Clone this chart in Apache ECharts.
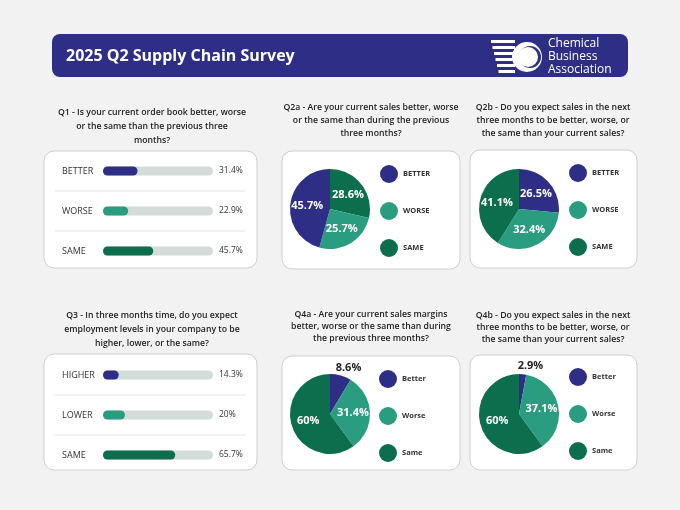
<!DOCTYPE html>
<html>
<head>
<meta charset="utf-8">
<script src="https://cdn.jsdelivr.net/npm/echarts@6/dist/echarts.min.js"></script>
<style>html,body{margin:0;padding:0;background:#f2f2f2}#main{width:680px;height:510px}</style>
</head>
<body>
<div id="main"></div>
<script>
// data
const q1Cats = ['BETTER', 'WORSE', 'SAME'];
const q1Vals = [31.4, 22.9, 45.7];
const q3Cats = ['HIGHER', 'LOWER', 'SAME'];
const q3Vals = [14.3, 20, 65.7];
const q2aNames = ['SAME', 'WORSE', 'BETTER'];
const q2aVals = [28.6, 25.7, 45.7];
const q2bNames = ['BETTER', 'WORSE', 'SAME'];
const q2bVals = [26.5, 32.4, 41.1];
const q4Names = ['Better', 'Worse', 'Same'];
const q4aVals = [8.6, 31.4, 60];
const q4bVals = [2.9, 37.1, 60];

const NAVY = '#2f2e86', TEAL = '#2a9d80', GREEN = '#0c6e4c';
const colorOf = { BETTER: NAVY, WORSE: TEAL, SAME: GREEN, HIGHER: NAVY, LOWER: TEAL, Better: NAVY, Worse: TEAL, Same: GREEN };
const FONT = '"Open Sans", "Noto Sans", sans-serif';

const chart = echarts.init(document.getElementById('main'));

function card(x, y, w, h) {
  return { type: 'rect', shape: { x: x, y: y, width: w, height: h, r: 10 }, style: { fill: '#fff', stroke: '#cfcfcf', lineWidth: 1 }, z: -1 };
}
function title(cx, ys, lines) {
  return lines.map((t, i) => ({ type: 'text', x: cx, y: ys[i], style: { text: t, fill: '#222', font: '600 8.7px ' + FONT, align: 'center', verticalAlign: 'middle' } }));
}
function sep(y) {
  return { type: 'line', shape: { x1: 55, y1: y, x2: 245, y2: y }, style: { stroke: '#e2e2e2', lineWidth: 1 } };
}

let graphic = [
  { type: 'rect', shape: { x: 52, y: 34, width: 576, height: 43, r: 8 }, style: { fill: '#2f2e86' } },
  { type: 'text', x: 66, y: 56, style: { text: '2025 Q2 Supply Chain Survey', fill: '#fff', font: 'bold 16px ' + FONT, verticalAlign: 'middle' } },
  { type: 'text', x: 548, y: 44, style: { text: 'Chemical', fill: '#fff', font: '12px ' + FONT, verticalAlign: 'middle' } },
  { type: 'text', x: 548, y: 57, style: { text: 'Business', fill: '#fff', font: '12px ' + FONT, verticalAlign: 'middle' } },
  { type: 'text', x: 548, y: 70, style: { text: 'Association', fill: '#fff', font: '12px ' + FONT, verticalAlign: 'middle' } },
  card(44, 151, 213, 117), card(282, 151, 178, 118), card(470, 150, 167, 118),
  card(44, 354, 213, 116), card(282, 356, 178, 114), card(470, 355, 167, 115),
  sep(191), sep(231), sep(395), sep(435)
];
// logo stripes and circle
[0, 1, 2, 3, 4, 5].forEach(i => {
  graphic.push({ type: 'rect', shape: { x: 491 + i * 1.5, y: 40 + i * 6, width: 24 - i * 1.5, height: 3 }, style: { fill: '#fff' } });
});
graphic.push({ type: 'circle', shape: { cx: 527, cy: 57, r: 15 }, style: { fill: '#fff' } });
graphic.push({ type: 'circle', shape: { cx: 530, cy: 57, r: 11 }, style: { fill: '#2f2e86' } });
graphic.push({ type: 'circle', shape: { cx: 528, cy: 57, r: 10 }, style: { fill: '#fff' } });

graphic = graphic.concat(
  title(152, [113, 127, 141], ['Q1 - Is your current order book better, worse', 'or the same than the previous three', 'months?']),
  title(371, [108, 121, 134], ['Q2a - Are your current sales better, worse', 'or the same than during the previous', 'three months?']),
  title(553, [108, 121, 134], ['Q2b - Do you expect sales in the next', 'three months to be better, worse, or', 'the same than your current sales?']),
  title(152, [316, 330, 344], ['Q3 - In three months time, do you expect', 'employment levels in your company to be', 'higher, lower, or the same?']),
  title(371, [315, 327, 339], ['Q4a - Are your current sales margins', 'better, worse or the same than during', 'the previous three months?']),
  title(553, [316, 328, 340], ['Q4b - Do you expect sales in the next', 'three months to be better, worse, or', 'the same than your current sales?'])
);

function barParts(idx, cats, vals, top) {
  const grid = { left: 103, width: 110, top: top, height: 120 };
  const yL = { type: 'category', gridIndex: idx, data: cats, inverse: true, axisLine: { show: false }, axisTick: { show: false },
    axisLabel: { align: 'left', margin: 41, color: '#333', fontSize: 9, fontFamily: FONT } };
  const yR = { type: 'category', gridIndex: idx, position: 'right', data: vals.map(v => v + '%'), inverse: true, axisLine: { show: false }, axisTick: { show: false },
    axisLabel: { margin: 6, color: '#333', fontSize: 8.5, fontFamily: FONT } };
  const x = { type: 'value', gridIndex: idx, min: 0, max: 100, show: false };
  const s = { type: 'bar', xAxisIndex: idx, yAxisIndex: idx * 2, barWidth: 9, showBackground: true,
    backgroundStyle: { color: '#d3dcd9', borderRadius: 5 },
    data: vals.map((v, i) => ({ value: v, itemStyle: { color: colorOf[cats[i]], borderRadius: 5 } })) };
  return { grid, yL, yR, x, s };
}
const b1 = barParts(0, q1Cats, q1Vals, 151);
const b3 = barParts(1, q3Cats, q3Vals, 355);

function pie(names, vals, cx, cy) {
  return { type: 'pie', center: [cx, cy], radius: 40, startAngle: 90, silent: true,
    labelLine: { show: false, length: 0, length2: 0 },
    label: { position: 'inside', formatter: '{c}%', color: '#fff', fontWeight: 'bold', fontSize: 11, fontFamily: FONT },
    data: names.map((n, i) => {
      const d = { name: n, value: vals[i], itemStyle: { color: colorOf[n] } };
      if (vals[i] < 10) d.label = { position: 'outside', color: '#222', distance: 0, offset: [-10, -8] };
      return d;
    }) };
}
function legend(names, left, top) {
  return { orient: 'vertical', left: left, top: top, icon: 'circle', itemWidth: 18, itemHeight: 18, itemGap: 19,
    data: names, selectedMode: false, textStyle: { fontSize: 7.5, fontWeight: 'bold', color: '#333', fontFamily: FONT } };
}

chart.setOption({
  backgroundColor: '#f2f2f2',
  animation: false,
  graphic: graphic,
  grid: [b1.grid, b3.grid],
  xAxis: [b1.x, b3.x],
  yAxis: [b1.yL, b1.yR, b3.yL, b3.yR],
  legend: [
    legend(['BETTER', 'WORSE', 'SAME'], 375, 160),
    legend(['BETTER', 'WORSE', 'SAME'], 564, 159),
    legend(q4Names, 374, 365),
    legend(q4Names, 564, 363)
  ],
  series: [b1.s, Object.assign({}, b3.s, { yAxisIndex: 2 }),
    pie(q2aNames, q2aVals, 330, 209), pie(q2bNames, q2bVals, 519, 209),
    pie(q4Names, q4aVals, 330, 414), pie(q4Names, q4bVals, 519, 414)]
});
</script>
</body>
</html>
